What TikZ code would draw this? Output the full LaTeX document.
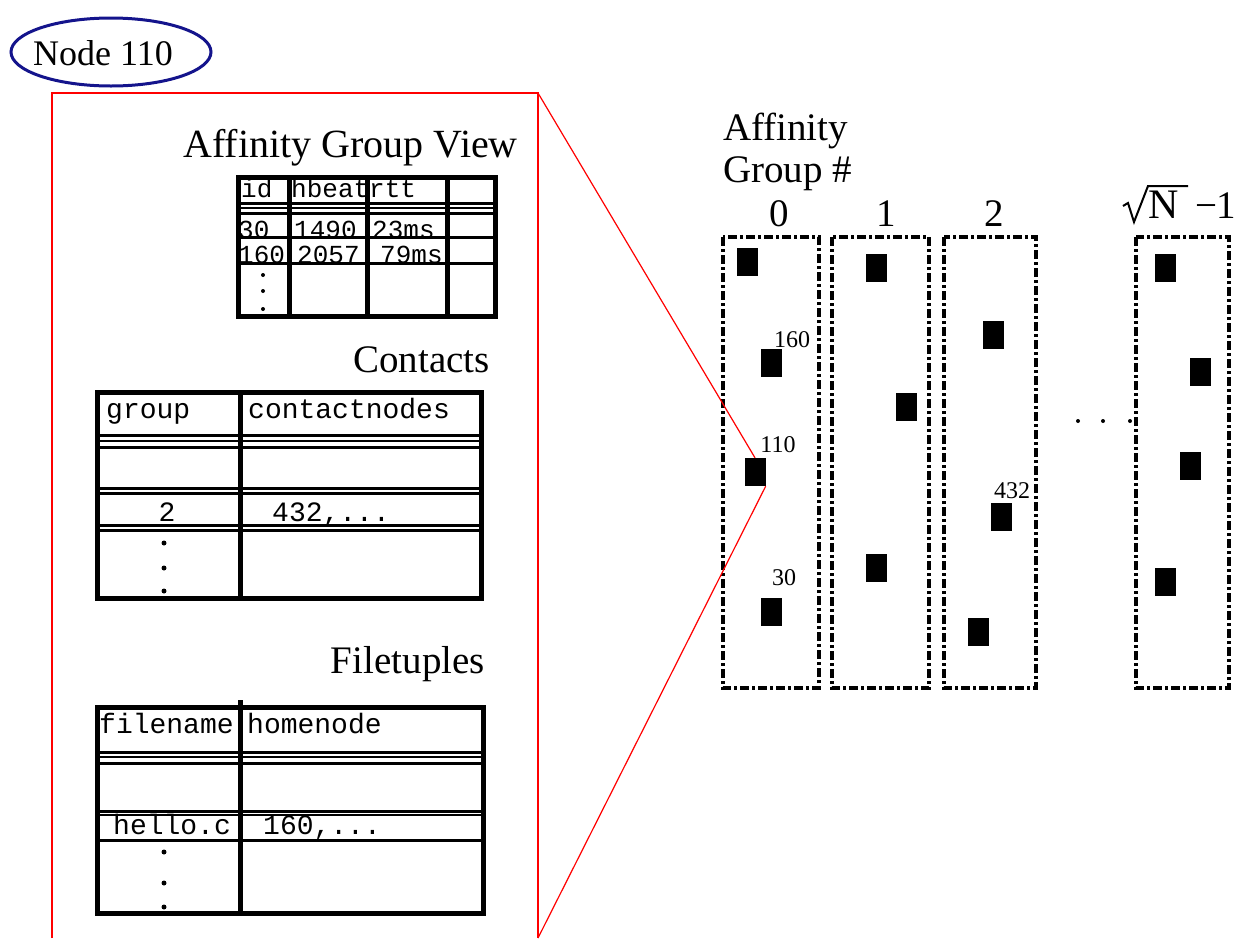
\documentclass[tikz,border=0pt]{standalone}
\usepackage{fontspec}
\setmainfont{Liberation Serif}
\setmonofont{Liberation Mono}
\usetikzlibrary{shapes.geometric}
\definecolor{navy}{RGB}{20,20,140}
\begin{document}
\begin{tikzpicture}[x=1pt,y=-1pt,
  title/.style={font=\fontsize{39}{44}\selectfont, inner sep=0pt},
  ttl/.style={font=\ttfamily\fontsize{28}{30}\selectfont, inner sep=0pt, anchor=base west},
  tts/.style={font=\ttfamily\fontsize{26}{28}\selectfont, inner sep=0pt, anchor=base west},
  lbl/.style={font=\fontsize{24}{26}\selectfont, inner sep=0pt},
  sq/.style={fill=black, minimum width=21pt, minimum height=28pt, inner sep=0pt},
  colbox/.style={draw, line width=4.5pt, dash pattern=on 9pt off 3pt on 3pt off 3pt},
  border/.style={line width=5pt},
  vrule/.style={line width=5pt},
  hrule/.style={line width=3pt},
  thinrule/.style={line width=2pt},
  dot/.style={circle, fill=black, inner sep=0pt, minimum size=5pt},
  redline/.style={red, line width=1.5pt},
]
\useasboundingbox (0,0) rectangle (1234,938);

% Node 110 ellipse
\node[ellipse, draw=navy, line width=3pt, minimum width=200pt, minimum height=68pt] (n110) at (111,52) {};
\node[font=\fontsize{36}{40}\selectfont, inner sep=0pt, anchor=base west] (n110t) at (33,65) {Node 110};

% red frame
\coordinate (fbl) at (52,938);
\coordinate (ftl) at (52,93);
\coordinate (ftr) at (538,93);
\coordinate (fbr) at (538,938);
\draw[redline] (fbl) -- (ftl) -- (ftr) -- (fbr);

% ---------- Affinity Group View ----------
\node[title, font=\fontsize{40}{44}\selectfont, anchor=base east] (agvt) at (518,157) {Affinity Group View};
\node[tts] (h1) at (241,197) {id};
\node[tts] (h2) at (291,197) {hbeat};
\node[tts] (h3) at (369,197) {rtt};
\begin{scope}
  \clip (240,214) rectangle (493,236);
  \node[tts] (r1a) at (238,238) {30};
  \node[tts] (r1b) at (294,238) {1490};
  \node[tts] (r1c) at (372,238) {23ms};
\end{scope}
\begin{scope}
  \clip (240,239) rectangle (493,261);
  \node[tts] (r2a) at (238,263) {160};
  \node[tts] (r2b) at (297,263) {2057};
  \node[tts] (r2c) at (380,263) {79ms};
\end{scope}
\draw[border] (238,177) rectangle (495,316);
\foreach \x in {289,367,447} \draw[vrule] (\x,177) -- (\x,316);
\draw[hrule] (238,203) -- (495,203);
\draw[thinrule] (238,208) -- (495,208);
\draw[hrule] (238,213) -- (495,213);
\draw[hrule] (238,237) -- (495,237);
\draw[hrule] (238,263) -- (495,263);
\node[dot, minimum size=4pt] (ad1) at (263,275) {};
\node[dot, minimum size=4pt] (ad2) at (263,291) {};
\node[dot, minimum size=4pt] (ad3) at (263,309) {};

% ---------- Contacts ----------
\node[title, anchor=base east] (ct) at (490,372) {Contacts};
\draw[border] (97,392) rectangle (481,598);
\draw[vrule] (240,392) -- (240,598);
\draw[hrule] (97,435) -- (481,435);
\draw[thinrule] (97,441) -- (481,441);
\draw[hrule] (97,447) -- (481,447);
\draw[hrule] (97,488) -- (481,488);
\draw[hrule] (97,493) -- (481,493);
\draw[hrule] (97,525) -- (481,525);
\draw[hrule] (97,530) -- (481,530);
\node[ttl] (cg) at (106,418) {group};
\node[ttl] (cc) at (248,418) {contactnodes};
\node[ttl, anchor=base] (c2) at (167,521) {2};
\node[ttl] (c432) at (272,521) {432,...};
\node[dot] (cd1) at (164,543) {};
\node[dot] (cd2) at (164,568) {};
\node[dot] (cd3) at (164,591) {};

% ---------- Filetuples ----------
\node[title, anchor=base east] (ft) at (485,673) {Filetuples};
\draw[border] (97,707) rectangle (483,913);
\draw[vrule] (240,700) -- (240,913);
\draw[hrule] (97,752) -- (483,752);
\draw[thinrule] (97,757) -- (483,757);
\draw[hrule] (97,763) -- (483,763);
\draw[hrule] (97,811) -- (483,811);
\draw[thinrule] (97,815) -- (483,815);
\draw[hrule] (97,840) -- (483,840);
\node[ttl] (ff) at (99,733) {filename};
\node[ttl] (fh) at (247,733) {homenode};
\node[ttl] (fhc) at (113,834) {hello.c};
\node[ttl] (f160) at (263,834) {160,...};
\node[dot] (fd1) at (164,852) {};
\node[dot] (fd2) at (164,883) {};
\node[dot] (fd3) at (164,907) {};

% ---------- Right: affinity groups ----------
\node[title, anchor=base west] (ag1) at (723,140) {Affinity};
\node[title, anchor=base west] (ag2) at (723,182) {Group \#};
\node[title, anchor=base] (g0) at (779,226) {0};
\node[title, anchor=base] (g1) at (886,226) {1};
\node[title, anchor=base] (g2) at (994,226) {2};
% sqrt(N) - 1
\draw[line width=2pt, line join=miter] (1123,206) -- (1128,203) -- (1134,222) -- (1148,186) -- (1188,186);
\node[title, font=\fontsize{42}{44}\selectfont, anchor=base west] (gnN) at (1148,218) {N};
\node[title, anchor=base west] (gnm) at (1195,218) {−};
\node[title, anchor=base west] (gn1) at (1216,218) {1};

\draw[colbox] (723,237) rectangle (819,688);
\draw[colbox] (832,237) rectangle (929,688);
\draw[colbox] (944,237) rectangle (1036,688);
\draw[colbox] (1136,237) rectangle (1229,688);

% squares
\node[sq] (c0a) at (747,262) {};
\node[sq] (c0b) at (771,363) {};
\node[sq] (c0c) at (755,472) {};
\node[sq] (c0d) at (771,612) {};
\node[sq] (c1a) at (876,268) {};
\node[sq] (c1b) at (906,407) {};
\node[sq] (c1c) at (876,568) {};
\node[sq] (c2a) at (993,335) {};
\node[sq] (c2b) at (1001,517) {};
\node[sq] (c2c) at (978,632) {};
\node[sq] (c3a) at (1165,268) {};
\node[sq] (c3b) at (1200,372) {};
\node[sq] (c3c) at (1190,466) {};
\node[sq] (c3d) at (1165,582) {};

\node[lbl] (l160) at (792,340) {160};
\node[lbl] (l110) at (778,445) {110};
\node[lbl] (l30) at (784,578) {30};
\node[lbl] (l432) at (1012,491) {432};

\node[dot, minimum size=4pt] (e1) at (1078,421) {};
\node[dot, minimum size=4pt] (e2) at (1103,421) {};
\node[dot, minimum size=4pt] (e3) at (1130,421) {};

% red zoom connectors
\draw[redline, line width=1.2pt] (ftr) -- (c0c.north);
\draw[redline, line width=1.2pt] (fbr) -- (c0c.south east);
\end{tikzpicture}
\end{document}
